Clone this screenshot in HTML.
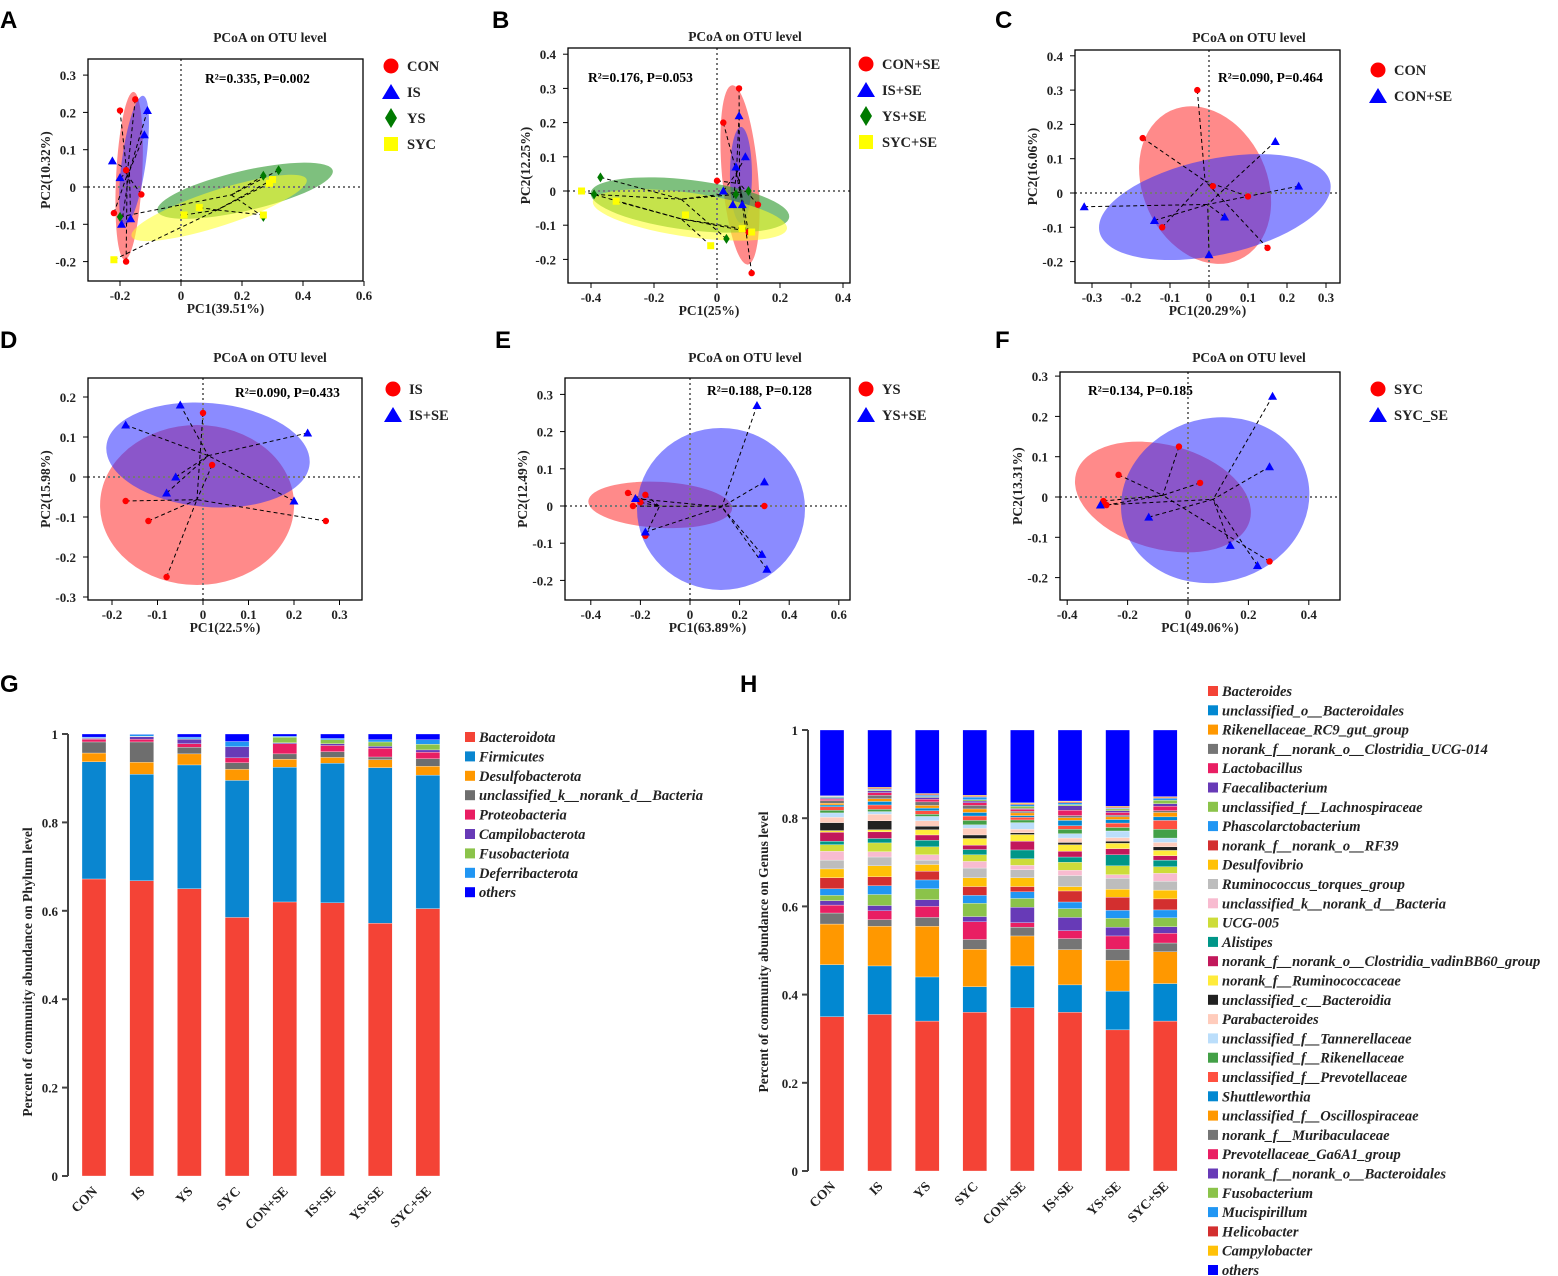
<!DOCTYPE html>
<html><head><meta charset="utf-8">
<style>
html,body{margin:0;padding:0;background:#fff;}
svg{display:block;font-family:"Liberation Serif",serif;}
</style></head>
<body>
<svg id="fig" width="1558" height="1276" viewBox="0 0 1558 1276" xmlns="http://www.w3.org/2000/svg"></svg>
<script>
// ---------- PCoA data ----------
const A_CON=[[-0.2,0.205],[-0.15,0.235],[-0.18,0.045],[-0.13,-0.02],[-0.22,-0.07],[-0.18,-0.2]];
const A_IS=[[-0.11,0.205],[-0.12,0.14],[-0.225,0.07],[-0.2,0.025],[-0.195,-0.1],[-0.165,-0.085]];
const A_YS=[[0.27,0.03],[0.32,0.045],[-0.2,-0.08],[0.27,-0.08]];
const A_SYC=[[0.3,0.02],[0.29,0.01],[0.01,-0.075],[0.06,-0.055],[0.27,-0.075],[-0.22,-0.195]];
const B_CON=[[0.07,0.3],[0.02,0.2],[0.0,0.03],[0.13,-0.04],[0.1,-0.12],[0.11,-0.24]];
const B_IS=[[0.07,0.22],[0.09,0.1],[0.06,0.07],[0.02,0.0],[0.08,-0.04],[0.05,-0.04]];
const B_YS=[[-0.37,0.04],[-0.39,-0.01],[0.06,-0.01],[0.03,-0.14],[0.1,0.0]];
const B_SYC=[[-0.43,0.0],[-0.32,-0.03],[-0.1,-0.07],[-0.02,-0.16],[0.11,-0.12],[0.08,-0.11]];
const C_CON=[[-0.03,0.3],[-0.17,0.16],[0.01,0.02],[0.1,-0.01],[-0.12,-0.1],[0.15,-0.16]];
const C_SE=[[-0.32,-0.04],[0.17,0.15],[0.23,0.02],[0.04,-0.07],[-0.14,-0.08],[0.0,-0.18]];
const D_IS=[[0.0,0.16],[-0.17,-0.06],[-0.12,-0.11],[0.02,0.03],[0.27,-0.11],[-0.08,-0.25]];
const D_SE=[[-0.05,0.18],[-0.17,0.13],[0.23,0.11],[-0.06,0.0],[-0.08,-0.04],[0.2,-0.06]];
const E_YS=[[-0.25,0.035],[-0.18,0.03],[-0.2,0.01],[-0.23,0.0],[0.3,0.0],[-0.18,-0.08]];
const E_SE=[[0.27,0.27],[0.3,0.065],[-0.22,0.02],[0.29,-0.13],[0.31,-0.17],[-0.18,-0.07]];
const F_SYC=[[-0.23,0.055],[-0.03,0.125],[0.04,0.035],[-0.28,-0.01],[-0.27,-0.02],[0.27,-0.16]];
const F_SE=[[0.28,0.25],[0.27,0.075],[-0.13,-0.05],[-0.29,-0.02],[0.14,-0.12],[0.23,-0.17]];
// ellipse centres (data units)
const A_ELL=[[-0.17,0.03],[-0.154,0.072],[0.21,-0.01],[0.125,-0.056]];
const B_ELL=[[0.073,0.047],[0.076,0.047],[-0.086,-0.041],[-0.086,-0.07]];
const C_ELL=[[-0.01,0.023],[0.015,-0.041]];
const D_ELL=[[-0.013,-0.07],[0.011,0.055]];
const E_ELL=[[-0.12,0.003],[0.125,-0.008]];
const F_ELL=[[-0.083,0.0],[0.09,-0.008]];
const STATS=["R²=0.335, P=0.002","R²=0.176, P=0.053","R²=0.090, P=0.464","R²=0.090, P=0.433","R²=0.188, P=0.128","R²=0.134, P=0.185"];

// ---------- bar data ----------
const G_CATS=["CON","IS","YS","SYC","CON+SE","IS+SE","YS+SE","SYC+SE"];
const G_PHYLA=["Bacteroidota","Firmicutes","Desulfobacterota","unclassified_k__norank_d__Bacteria","Proteobacteria","Campilobacterota","Fusobacteriota","Deferribacterota","others"];
const G_BACT=[0.672,0.668,0.65,0.585,0.62,0.618,0.572,0.605];
const G_FIRM=[0.265,0.241,0.28,0.31,0.305,0.316,0.352,0.302];
const G_DESU=[0.02,0.027,0.025,0.025,0.018,0.013,0.018,0.02];
const G_UNCL=[0.025,0.046,0.015,0.015,0.012,0.013,0.006,0.017];
const G_PROT=[0.006,0.006,0.008,0.011,0.023,0.014,0.02,0.015];
const G_CAMP=[0.002,0.006,0.01,0.025,0.002,0.004,0.004,0.005];
const G_FUSO=[0.001,0.001,0.001,0.0,0.013,0.009,0.01,0.013];
const G_DEFE=[0.002,0.004,0.004,0.012,0.002,0.003,0.005,0.01];
const G_TICKS=[0,0.2,0.4,0.6,0.8,1];

const H_GENERA=["Bacteroides","unclassified_o__Bacteroidales","Rikenellaceae_RC9_gut_group","norank_f__norank_o__Clostridia_UCG-014","Lactobacillus","Faecalibacterium","unclassified_f__Lachnospiraceae","Phascolarctobacterium","norank_f__norank_o__RF39","Desulfovibrio","Ruminococcus_torques_group","unclassified_k__norank_d__Bacteria","UCG-005","Alistipes","norank_f__norank_o__Clostridia_vadinBB60_group","norank_f__Ruminococcaceae","unclassified_c__Bacteroidia","Parabacteroides","unclassified_f__Tannerellaceae","unclassified_f__Rikenellaceae","unclassified_f__Prevotellaceae","Shuttleworthia","unclassified_f__Oscillospiraceae","norank_f__Muribaculaceae","Prevotellaceae_Ga6A1_group","norank_f__norank_o__Bacteroidales","Fusobacterium","Mucispirillum","Helicobacter","Campylobacter","others"];
const H_CON=[0.35,0.118,0.092,0.025,0.018,0.01,0.012,0.015,0.025,0.02,0.02,0.02,0.015,0.008,0.02,0.004,0.018,0.012,0.01,0.006,0.008,0.004,0.004,0.006,0.003,0.002,0.002,0.002,0.001,0.001];
const H_IS=[0.355,0.11,0.09,0.015,0.02,0.012,0.025,0.02,0.02,0.025,0.02,0.012,0.02,0.01,0.015,0.005,0.02,0.015,0.006,0.005,0.01,0.008,0.006,0.008,0.006,0.004,0.002,0.002,0.002,0.002];
const H_YS=[0.34,0.1,0.115,0.02,0.025,0.015,0.025,0.02,0.02,0.015,0.01,0.012,0.018,0.015,0.012,0.012,0.008,0.012,0.01,0.005,0.008,0.006,0.006,0.008,0.006,0.004,0.002,0.003,0.002,0.002];
const H_SYC=[0.36,0.058,0.085,0.022,0.04,0.012,0.03,0.018,0.02,0.02,0.022,0.015,0.015,0.012,0.01,0.015,0.008,0.015,0.008,0.01,0.01,0.008,0.008,0.008,0.006,0.004,0.003,0.006,0.002,0.002];
const H_CONSE=[0.37,0.095,0.068,0.02,0.01,0.035,0.02,0.015,0.012,0.02,0.018,0.01,0.015,0.02,0.02,0.015,0.004,0.008,0.015,0.006,0.006,0.004,0.006,0.004,0.004,0.002,0.005,0.004,0.002,0.002];
const H_ISSE=[0.36,0.062,0.08,0.025,0.018,0.03,0.02,0.015,0.025,0.01,0.025,0.012,0.018,0.012,0.013,0.015,0.005,0.01,0.01,0.01,0.008,0.012,0.006,0.005,0.012,0.01,0.003,0.004,0.002,0.002];
const H_YSSE=[0.32,0.088,0.07,0.025,0.03,0.02,0.02,0.018,0.03,0.018,0.025,0.008,0.02,0.025,0.014,0.012,0.005,0.008,0.015,0.008,0.01,0.008,0.006,0.004,0.006,0.004,0.004,0.002,0.002,0.002];
const H_SYCSE=[0.34,0.085,0.072,0.02,0.022,0.015,0.02,0.018,0.025,0.02,0.02,0.018,0.015,0.015,0.01,0.012,0.008,0.01,0.01,0.02,0.02,0.008,0.01,0.004,0.01,0.006,0.008,0.004,0.002,0.002];

const NS="http://www.w3.org/2000/svg";
const svg=document.getElementById('fig');
function mk(tag,attrs,parent){const e=document.createElementNS(NS,tag);for(const k in attrs)e.setAttribute(k,attrs[k]);(parent||svg).appendChild(e);return e;}
function txt(s,attrs,parent){const e=mk('text',attrs,parent);e.textContent=s;return e;}
function fmt(v){const r=Math.round(v*10)/10;return r===0?"0":r.toFixed(1);}

const COL={red:"#ff0000",blue:"#0000ff",green:"#007a00",yellow:"#ffff00"};
const FILL={red:["#ff2a2a",0.55],blue:["#2b2bff",0.55],green:["#2e9a2e",0.62],yellow:["#ffff20",0.55]};

function marker(g,type,x,y){
  let e;
  if(type==="red") e=mk('circle',{cx:x,cy:y,r:3.2,fill:COL.red},g);
  else if(type==="blue") e=mk('path',{d:`M${x},${y-4.5}L${x+4.5},${y+3.5}L${x-4.5},${y+3.5}Z`,fill:COL.blue},g);
  else if(type==="green") e=mk('path',{d:`M${x},${y-5}L${x+3.2},${y}L${x},${y+5}L${x-3.2},${y}Z`,fill:COL.green},g);
  else e=mk('rect',{x:x-3.5,y:y-3.5,width:7,height:7,fill:COL.yellow},g);
  
  
}
function legendMarker(g,type,x,y){
  if(type==="red") mk('circle',{cx:x,cy:y,r:7.5,fill:COL.red},g);
  else if(type==="blue") mk('path',{d:`M${x},${y-8}L${x+9},${y+7}L${x-9},${y+7}Z`,fill:COL.blue},g);
  else if(type==="green") mk('path',{d:`M${x},${y-10}L${x+6},${y}L${x},${y+10}L${x-6},${y}Z`,fill:COL.green},g);
  else mk('rect',{x:x-7,y:y-7,width:14,height:14,fill:COL.yellow},g);
}

const PANELS=[
 {L:"A",box:[88,59,363,281],x0:181,xs:305,y0:187,ys:373,xt:[-0.2,0,0.2,0.4,0.6],yt:[-0.2,-0.1,0,0.1,0.2,0.3],xl:"PC1(39.51%)",yl:"PC2(10.32%)",
  groups:[[A_CON,"red","CON"],[A_IS,"blue","IS"],[A_YS,"green","YS"],[A_SYC,"yellow","SYC"]],ell:A_ELL,er:[[13,84,3],[12,65,8],[90,20,-13],[92,18,-18]],lg:[391,66],st:[205,78],letter:[0,20],title:[270,37]},
 {L:"B",box:[568,48,850,283],x0:717,xs:315,y0:191,ys:342,xt:[-0.4,-0.2,0,0.2,0.4],yt:[-0.2,-0.1,0,0.1,0.2,0.3,0.4],xl:"PC1(25%)",yl:"PC2(12.25%)",
  groups:[[B_CON,"red","CON+SE"],[B_IS,"blue","IS+SE"],[B_YS,"green","YS+SE"],[B_SYC,"yellow","SYC+SE"]],ell:B_ELL,er:[[18,90,-5],[11,48,0],[100,25,7],[98,22,8]],lg:[866,64],st:[588,77],letter:[492,20],title:[745,36]},
 {L:"C",box:[1075,50,1340,283],x0:1209,xs:390,y0:193,ys:343,xt:[-0.3,-0.2,-0.1,0,0.1,0.2,0.3],yt:[-0.2,-0.1,0,0.1,0.2,0.3,0.4],xl:"PC1(20.29%)",yl:"PC2(16.06%)",
  groups:[[C_CON,"red","CON"],[C_SE,"blue","CON+SE"]],ell:C_ELL,er:[[62,82,-25],[118,48,-12]],lg:[1378,70],st:[1218,77],letter:[995,20],title:[1249,37]},
 {L:"D",box:[88,378,362,600],x0:203,xs:455,y0:477,ys:400,xt:[-0.2,-0.1,0,0.1,0.2,0.3],yt:[-0.3,-0.2,-0.1,0,0.1,0.2],xl:"PC1(22.5%)",yl:"PC2(15.98%)",
  groups:[[D_IS,"red","IS"],[D_SE,"blue","IS+SE"]],ell:D_ELL,er:[[97,80,0],[102,52,5]],lg:[393,389],st:[235,392],letter:[0,340],title:[270,357]},
 {L:"E",box:[565,378,850,600],x0:690,xs:248,y0:506,ys:372,xt:[-0.4,-0.2,0,0.2,0.4,0.6],yt:[-0.2,-0.1,0,0.1,0.2,0.3],xl:"PC1(63.89%)",yl:"PC2(12.49%)",
  groups:[[E_YS,"red","YS"],[E_SE,"blue","YS+SE"]],ell:E_ELL,er:[[72,23,3],[84,81,0]],lg:[866,389],st:[707,390],letter:[495,340],title:[745,357]},
 {L:"F",box:[1060,372,1340,600],x0:1188,xs:302,y0:497,ys:403,xt:[-0.4,-0.2,0,0.2,0.4],yt:[-0.2,-0.1,0,0.1,0.2,0.3],xl:"PC1(49.06%)",yl:"PC2(13.31%)",
  groups:[[F_SYC,"red","SYC"],[F_SE,"blue","SYC_SE"]],ell:F_ELL,er:[[90,52,15],[95,82,-15]],lg:[1378,389],st:[1088,390],letter:[995,340],title:[1249,357]}
];

PANELS.forEach((P,pi)=>{
  const g=mk('g',{});
  
  
  const X=v=>P.x0+v*P.xs, Y=v=>P.y0-v*P.ys;
  const [bx0,by0,bx1,by1]=P.box;
  const lt=txt(P.L,{x:P.letter[0],y:P.letter[1]+8,'font-family':'Liberation Sans,sans-serif','font-weight':'bold','font-size':24},g);
  
  const tt=txt("PCoA on OTU level",{x:P.title[0],y:P.title[1]+5,'text-anchor':'middle','font-weight':'bold','font-size':13.5,fill:'#222'},g);
  
  const clip=mk('clipPath',{id:'clip'+pi},g);
  mk('rect',{x:bx0,y:by0,width:bx1-bx0,height:by1-by0},clip);
  const inner=mk('g',{'clip-path':`url(#clip${pi})`},g);
  P.groups.forEach((gr,i)=>{
    const c=P.ell[i],r=P.er[i],cx=X(c[0]),cy=Y(c[1]);
    const e=mk('ellipse',{cx:cx,cy:cy,rx:r[0],ry:r[1],transform:`rotate(${r[2]} ${cx} ${cy})`,fill:FILL[gr[1]][0],'fill-opacity':FILL[gr[1]][1]},inner);
    
    
  });
  mk('line',{x1:X(0),x2:X(0),y1:by0,y2:by1,stroke:'#777','stroke-width':2,'stroke-dasharray':'2,3'},inner);
  mk('line',{x1:bx0,x2:bx1,y1:Y(0),y2:Y(0),stroke:'#777','stroke-width':2,'stroke-dasharray':'2,3'},inner);
  P.groups.forEach(gr=>{
    const pts=gr[0];let mx=0,my=0;pts.forEach(p=>{mx+=p[0];my+=p[1];});mx/=pts.length;my/=pts.length;
    pts.forEach(p=>mk('line',{x1:X(p[0]),y1:Y(p[1]),x2:X(mx),y2:Y(my),stroke:'#000','stroke-width':1,'stroke-dasharray':'4,3'},inner));
  });
  P.groups.forEach(gr=>gr[0].forEach(p=>marker(inner,gr[1],X(p[0]),Y(p[1]))));
  mk('rect',{x:bx0,y:by0,width:bx1-bx0,height:by1-by0,fill:'none',stroke:'#000','stroke-width':1.3},g);
  P.xt.forEach(v=>{mk('line',{x1:X(v),x2:X(v),y1:by1,y2:by1+5,stroke:'#000'},g);
    txt(fmt(v),{x:X(v),y:by1+19,'text-anchor':'middle','font-weight':'bold','font-size':13,fill:'#222'},g);});
  P.yt.forEach(v=>{mk('line',{x1:bx0-5,x2:bx0,y1:Y(v),y2:Y(v),stroke:'#000'},g);
    txt(fmt(v),{x:bx0-12,y:Y(v)+5,'text-anchor':'end','font-weight':'bold','font-size':13,fill:'#222'},g);});
  const xl=txt(P.xl,{x:(bx0+bx1)/2,y:by1+32,'text-anchor':'middle','font-weight':'bold','font-size':13.5,fill:'#222'},g);
  
  const ycx=bx0-38,ycy=(by0+by1)/2;
  const yl=txt(P.yl,{x:ycx,y:ycy,'text-anchor':'middle','font-weight':'bold','font-size':13.5,fill:'#222',transform:`rotate(-90 ${ycx} ${ycy})`},g);
  
  const st=txt(STATS[pi],{x:P.st[0],y:P.st[1]+5,'font-weight':'bold','font-size':13.5},g);
  
  P.groups.forEach((gr,i)=>{
    const lg=mk('g',{},g);
    
    
    const y=P.lg[1]+i*26;
    legendMarker(lg,gr[1],P.lg[0],y);
    txt(gr[2],{x:P.lg[0]+16,y:y+5,'font-size':14.5,'font-weight':'bold',fill:'#222'},lg);
  });
});

// ---------- stacked bars ----------
const PHYLA_COL=["#f44336","#0a86d0","#ff9800","#6e6e6e","#e91e63","#673ab7","#8bc34a","#2196f3","#0000ff"];
const GEN_COL=["#f44336","#0288d1","#ff9800","#757575","#e91e63","#673ab7","#8bc34a","#2196f3","#d32f2f","#ffc107","#bdbdbd","#f8bbd0","#cddc39","#009688","#c2185b","#ffeb3b","#212121","#ffccbc","#bbdefb","#43a047","#ff5040","#0288d1","#ff9800","#757575","#e91e63","#673ab7","#8bc34a","#2196f3","#d32f2f","#ffc107","#0000ff"];

function stacked(cfg){
  const g=mk('g',{});
  
  
  const Y=v=>cfg.y0-v*cfg.ys;
  const lt=txt(cfg.letter,{x:cfg.lp[0],y:cfg.lp[1],'font-family':'Liberation Sans,sans-serif','font-weight':'bold','font-size':24},g);
  
  mk('line',{x1:cfg.ax,x2:cfg.ax,y1:Y(1),y2:Y(0),stroke:'#444','stroke-width':2},g);
  G_TICKS.forEach(v=>{mk('line',{x1:cfg.ax-6,x2:cfg.ax,y1:Y(v),y2:Y(v),stroke:'#444','stroke-width':2},g);
    txt(v===0?"0":(v===1?"1":v.toFixed(1)),{x:cfg.ax-10,y:Y(v)+5,'text-anchor':'end','font-weight':'bold','font-size':13,fill:'#222'},g);});
  G_CATS.forEach((c,i)=>{
    const cx=cfg.x0+i*cfg.step;
    const vals=cfg.series.map(s=>s[i]);
    let sum=0;vals.forEach(v=>sum+=v);
    const all=vals.concat([Math.max(0,1-sum)]);
    let acc=0;
    all.forEach((v,k)=>{
      const r=mk('rect',{x:cx-cfg.bw/2,y:Y(acc+v),width:cfg.bw,height:Math.max(0,Y(acc)-Y(acc+v)),fill:cfg.cols[k],stroke:'#fff','stroke-width':0.3},g);
      
      
      acc+=v;
    });
    const tx=cx+4,ty=cfg.y0+16;
    const l=txt(c,{x:tx,y:ty,'text-anchor':'end','font-weight':'bold','font-size':13.5,fill:'#222',transform:`rotate(-45 ${tx} ${ty})`},g);
    
  });
  const yx=cfg.ylx,yy=cfg.yly;
  const yl=txt(cfg.ylabel,{x:yx,y:yy,'text-anchor':'middle','font-weight':'bold','font-size':13.5,fill:'#222',transform:`rotate(-90 ${yx} ${yy})`},g);
  
  cfg.names.forEach((n,k)=>{
    const lg=mk('g',{},g);
    
    
    const y=cfg.lgy+k*cfg.lgs;
    mk('rect',{x:cfg.lgx,y:y-5,width:10,height:10,fill:cfg.cols[k]},lg);
    txt(n,{x:cfg.lgx+14,y:y+5,'font-style':'italic','font-weight':'bold','font-size':14.5,fill:'#222'},lg);
  });
}
stacked({name:'phylum-bar-chart',letter:'G',lp:[0,692],ax:68,y0:1176,ys:442,x0:94,step:47.7,bw:24,
  series:[G_BACT,G_FIRM,G_DESU,G_UNCL,G_PROT,G_CAMP,G_FUSO,G_DEFE],cols:PHYLA_COL,names:G_PHYLA,
  ylabel:'Percent of community abundance on Phylum level',ylx:32,yly:972,lgx:465,lgy:737,lgs:19.4});
const H_SERIES=H_GENERA.slice(0,30).map((n,k)=>[H_CON[k],H_IS[k],H_YS[k],H_SYC[k],H_CONSE[k],H_ISSE[k],H_YSSE[k],H_SYCSE[k]]);
stacked({name:'genus-bar-chart',letter:'H',lp:[740,692],ax:808,y0:1171,ys:441,x0:832,step:47.6,bw:24,
  series:H_SERIES,cols:GEN_COL,names:H_GENERA,
  ylabel:'Percent of community abundance on Genus level',ylx:768,yly:952,lgx:1208,lgy:691,lgs:19.3});
</script>
</body></html>
